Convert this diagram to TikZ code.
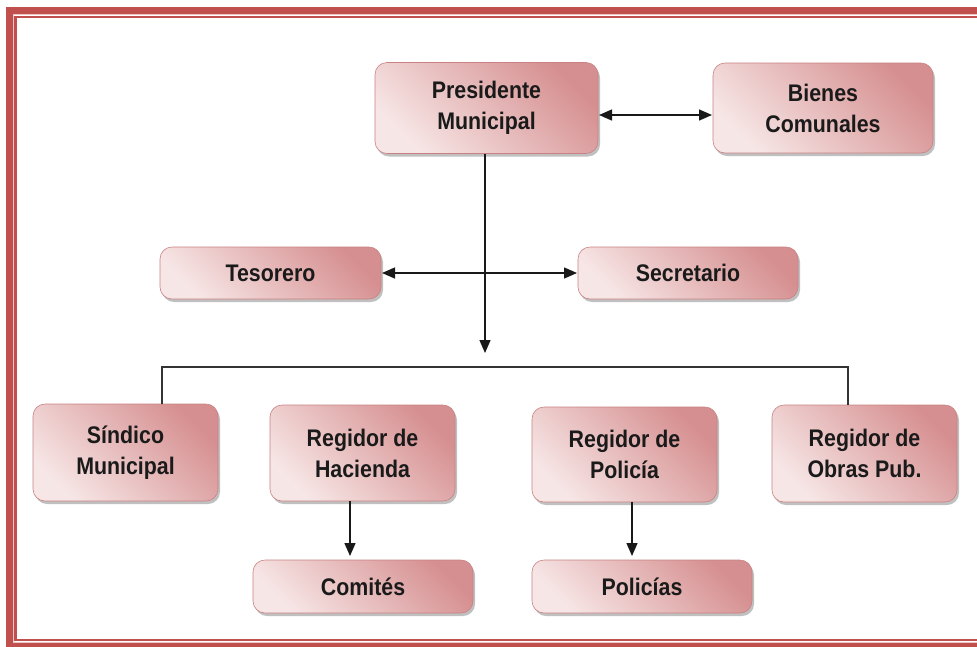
\documentclass[tikz,border=0pt]{standalone}
\usepackage{fontspec}
\setmainfont{Liberation Sans}[FakeStretch=0.89]
\usetikzlibrary{shadows,arrows.meta}
\definecolor{rosedark}{HTML}{D68F90}
\definecolor{roselight}{HTML}{F7E6E6}
\definecolor{rosedraw}{HTML}{C98183}
\definecolor{frmred}{HTML}{C0504D}
\definecolor{frmpale}{HTML}{EFC3C2}
\definecolor{txtcol}{HTML}{1A1A1A}
\tikzset{
  box/.style={rectangle, rounded corners=12pt, draw=rosedraw, line width=0.6pt,
    top color=rosedark, bottom color=roselight, shading angle=-45,
    drop shadow={shadow xshift=2pt, shadow yshift=-3pt, fill=black!45, opacity=0.55},
    align=center, text=txtcol, inner sep=0pt, outer sep=0pt,
    font=\bfseries\fontsize{24}{31}\selectfont},
  conn/.style={draw=black!90, line width=1.4pt},
  busline/.style={draw=black!80, line width=1.2pt},
  arr/.style={conn, -{Triangle[length=13pt,width=11pt]}},
  darr/.style={conn, {Triangle[length=13pt,width=11pt]}-{Triangle[length=13pt,width=11pt]}}
}
\begin{document}
\begin{tikzpicture}[x=1pt,y=-1pt]
\useasboundingbox (0,0) rectangle (977,646);
\clip (0,0) rectangle (977,646);
% frame
\draw[frmred, line width=6.5pt] (9.5,10.3) rectangle (990,646.5);
\draw[frmpale, line width=1.6pt] (13.4,14.3) rectangle (982,642.6);
\draw[frmred, line width=2.2pt] (15.4,16.6) rectangle (978.2,640);
% nodes
\node[box, minimum width=223pt, minimum height=91pt] (pres) at (486.5,108) {Presidente\\Municipal};
\node[box, minimum width=220pt, minimum height=90pt] (bienes) at (823,108) {Bienes\\Comunales};
\node[box, minimum width=221pt, minimum height=52pt] (tes) at (270.5,273) {Tesorero};
\node[box, minimum width=220pt, minimum height=52pt] (sec) at (688,273) {Secretario};
\node[box, minimum width=185pt, minimum height=97pt] (sind) at (125.5,452.5) {Síndico\\Municipal};
\node[box, minimum width=185pt, minimum height=96pt] (hac) at (362.5,453) {Regidor de\\Hacienda};
\node[box, minimum width=185pt, minimum height=95pt] (pol) at (624.5,454.5) {Regidor de\\Policía};
\node[box, minimum width=185pt, minimum height=97pt] (obras) at (864.5,453.5) {Regidor de\\Obras Pub.};
\node[box, minimum width=220pt, minimum height=53pt] (com) at (363,586.5) {Comités};
\node[box, minimum width=220pt, minimum height=53pt] (poli) at (642,586.5) {Policías};
% connectors
\draw[darr, shorten <=1pt, shorten >=1pt] ([yshift=-7pt]pres.east) -- ([yshift=-7pt]bienes.west);
\draw[darr, shorten <=1pt, shorten >=1pt] (tes.east) -- (sec.west);
\coordinate (down) at (485,353);
\draw[arr] (pres.south -| down) -- (down);
\coordinate (bl) at (162,367);
\coordinate (br) at (848,367);
\draw[busline] (sind.north -| bl) -- (bl) -- (br) -- (obras.north -| br);
\coordinate (ca) at (350,0);
\coordinate (pa) at (632,0);
\draw[arr, shorten >=4pt] (hac.south -| ca) -- (com.north -| ca);
\draw[arr, shorten >=4pt] (pol.south -| pa) -- (poli.north -| pa);
\end{tikzpicture}
\end{document}
